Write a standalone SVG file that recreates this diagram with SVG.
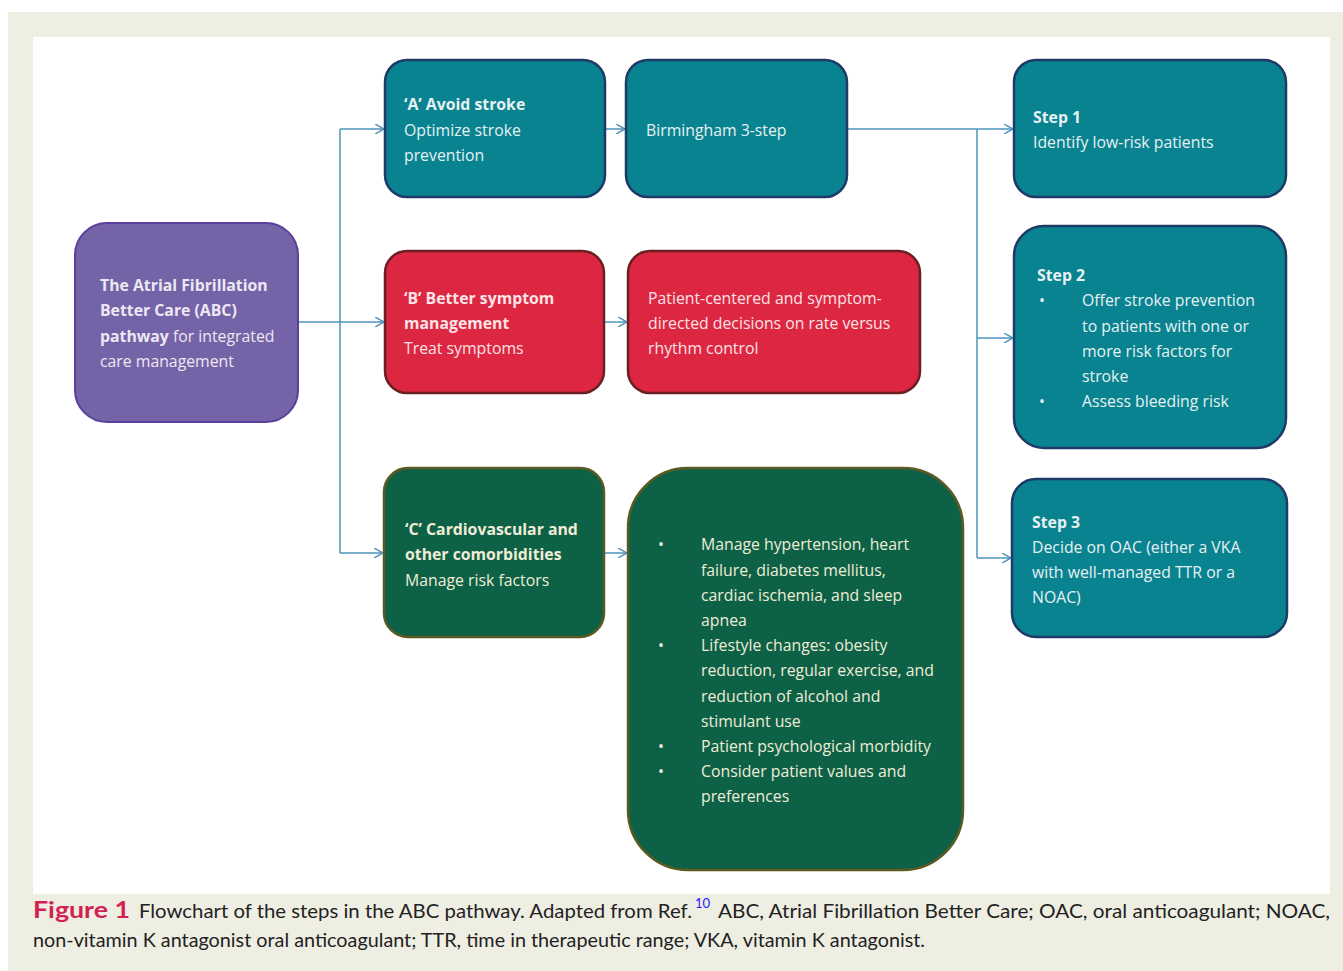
<svg xmlns="http://www.w3.org/2000/svg" width="1343" height="971" viewBox="0 0 1343 971">
<style>
.t{font-family:"Open Sans","Liberation Sans",Arial,sans-serif;font-size:15.8px}
.b{font-weight:bold}
.teal{fill:#0a8391;stroke:#1e3a66;stroke-width:2.5}
.red{fill:#dd2641;stroke:#6a1f22;stroke-width:2.5}
.green{fill:#0c6147;stroke:#5c5a22;stroke-width:2.5}
.purple{fill:#7563a8;stroke:#5a3f9c;stroke-width:2}
.tw{fill:#e6f1f2}
.rw{fill:#fbe3e6}
.gw{fill:#f1ecd6}
.pw{fill:#ece8f3}
.conn{fill:none;stroke:#4f93bd;stroke-width:1.5}
.cap{font-family:Lato,"Liberation Sans",sans-serif;font-size:19px;fill:#222}
</style>
<defs>
<marker id="arr" viewBox="0 0 10 10" refX="9" refY="5" markerWidth="10" markerHeight="10" markerUnits="userSpaceOnUse" orient="auto">
<path d="M0,0 L9,5 L0,10" fill="none" stroke="#4f93bd" stroke-width="1.5"/>
</marker>
</defs>
<rect x="0" y="0" width="1343" height="971" fill="#ffffff"/>
<rect x="8" y="12" width="1335" height="959" fill="#efeee3"/>
<rect x="33" y="37" width="1297" height="857" fill="#ffffff"/>

<g id="connectors">
<path class="conn" d="M298,322 H340"/>
<path class="conn" d="M340,129 V553"/>
<path class="conn" d="M340,129 H384" marker-end="url(#arr)"/>
<path class="conn" d="M340,322 H384" marker-end="url(#arr)"/>
<path class="conn" d="M340,553 H383" marker-end="url(#arr)"/>
<path class="conn" d="M605,129 H625" marker-end="url(#arr)"/>
<path class="conn" d="M604,322 H627" marker-end="url(#arr)"/>
<path class="conn" d="M604,553 H627" marker-end="url(#arr)"/>
<path class="conn" d="M847,129 H1013" marker-end="url(#arr)"/>
<path class="conn" d="M977,129 V558"/>
<path class="conn" d="M977,338 H1013" marker-end="url(#arr)"/>
<path class="conn" d="M977,558 H1011" marker-end="url(#arr)"/>
</g>

<g id="node-abc">
<rect class="purple" x="75" y="223" width="223" height="199" rx="32"/>
<text class="t pw" x="100" y="291"><tspan class="b">The Atrial Fibrillation</tspan></text>
<text class="t pw" x="100" y="316"><tspan class="b">Better Care (ABC)</tspan></text>
<text class="t pw" x="100" y="342"><tspan class="b">pathway</tspan> for integrated</text>
<text class="t pw" x="100" y="367">care management</text>
</g>

<g id="node-a">
<rect class="teal" x="385" y="60" width="220" height="137" rx="22"/>
<text class="t tw b" x="404" y="110">‘A’ Avoid stroke</text>
<text class="t tw" x="404" y="136">Optimize stroke</text>
<text class="t tw" x="404" y="161">prevention</text>
</g>

<g id="node-birmingham">
<rect class="teal" x="626" y="60" width="221" height="137" rx="22"/>
<text class="t tw" x="646" y="136">Birmingham 3-step</text>
</g>

<g id="node-step1">
<rect class="teal" x="1014" y="60" width="272" height="137" rx="22"/>
<text class="t tw b" x="1033" y="123">Step 1</text>
<text class="t tw" x="1033" y="148">Identify low-risk patients</text>
</g>

<g id="node-step2">
<rect class="teal" x="1014" y="226" width="272" height="222" rx="30"/>
<text class="t tw b" x="1037" y="281">Step 2</text>
<text class="t tw" x="1039" y="306">•</text>
<text class="t tw" x="1082" y="306">Offer stroke prevention</text>
<text class="t tw" x="1082" y="332">to patients with one or</text>
<text class="t tw" x="1082" y="357">more risk factors for</text>
<text class="t tw" x="1082" y="382">stroke</text>
<text class="t tw" x="1039" y="407">•</text>
<text class="t tw" x="1082" y="407">Assess bleeding risk</text>
</g>

<g id="node-step3">
<rect class="teal" x="1012" y="479" width="275" height="158" rx="24"/>
<text class="t tw b" x="1032" y="528">Step 3</text>
<text class="t tw" x="1032" y="553">Decide on OAC (either a VKA</text>
<text class="t tw" x="1032" y="578">with well-managed TTR or a</text>
<text class="t tw" x="1032" y="603">NOAC)</text>
</g>

<g id="node-b">
<rect class="red" x="385" y="251" width="219" height="142" rx="22"/>
<text class="t rw b" x="404" y="304">‘B’ Better symptom</text>
<text class="t rw b" x="404" y="329">management</text>
<text class="t rw" x="404" y="354">Treat symptoms</text>
</g>

<g id="node-b-detail">
<rect class="red" x="628" y="251" width="292" height="142" rx="22"/>
<text class="t rw" x="648" y="304">Patient-centered and symptom-</text>
<text class="t rw" x="648" y="329">directed decisions on rate versus</text>
<text class="t rw" x="648" y="354">rhythm control</text>
</g>

<g id="node-c">
<rect class="green" x="384" y="468" width="220" height="169" rx="24"/>
<text class="t gw b" x="405" y="535">‘C’ Cardiovascular and</text>
<text class="t gw b" x="405" y="560">other comorbidities</text>
<text class="t gw" x="405" y="586">Manage risk factors</text>
</g>

<g id="node-c-detail">
<rect class="green" x="628" y="468" width="335" height="402" rx="60"/>
<text class="t gw" x="658" y="550">•</text>
<text class="t gw" x="701" y="550">Manage hypertension, heart</text>
<text class="t gw" x="701" y="576">failure, diabetes mellitus,</text>
<text class="t gw" x="701" y="601">cardiac ischemia, and sleep</text>
<text class="t gw" x="701" y="626">apnea</text>
<text class="t gw" x="658" y="651">•</text>
<text class="t gw" x="701" y="651">Lifestyle changes: obesity</text>
<text class="t gw" x="701" y="676">reduction, regular exercise, and</text>
<text class="t gw" x="701" y="702">reduction of alcohol and</text>
<text class="t gw" x="701" y="727">stimulant use</text>
<text class="t gw" x="658" y="752">•</text>
<text class="t gw" x="701" y="752">Patient psychological morbidity</text>
<text class="t gw" x="658" y="777">•</text>
<text class="t gw" x="701" y="777">Consider patient values and</text>
<text class="t gw" x="701" y="802">preferences</text>
</g>

<g id="caption">
<text class="cap" x="33" y="918" style="font-weight:bold;font-size:23px;fill:#d31f52" textLength="97" lengthAdjust="spacingAndGlyphs">Figure 1</text>
<text class="cap" x="139" y="918" textLength="553" lengthAdjust="spacingAndGlyphs">Flowchart of the steps in the ABC pathway. Adapted from Ref.</text>
<text class="cap" x="695" y="908" style="font-size:13px;fill:#1a1aff">10</text>
<text class="cap" x="718" y="918" textLength="612" lengthAdjust="spacingAndGlyphs">ABC, Atrial Fibrillation Better Care; OAC, oral anticoagulant; NOAC,</text>
<text class="cap" x="33" y="947" textLength="892" lengthAdjust="spacingAndGlyphs">non-vitamin K antagonist oral anticoagulant; TTR, time in therapeutic range; VKA, vitamin K antagonist.</text>
</g>
</svg>
